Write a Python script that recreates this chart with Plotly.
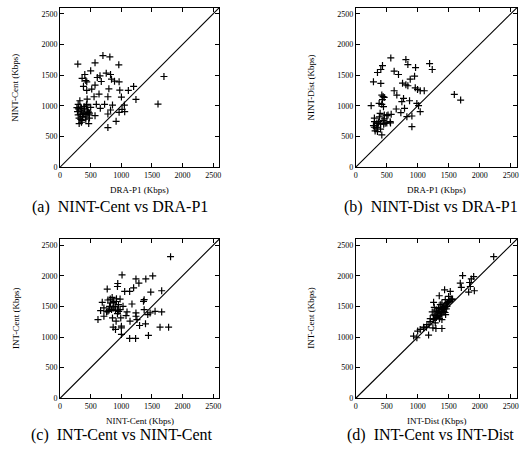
import plotly.graph_objects as go

# (a) NINT-Cent vs DRA-P1
a_dra_p1 = [290, 700, 813, 571, 500, 360, 404, 420, 436, 608, 673, 754, 824, 840, 889, 964, 959, 652,
            571, 382, 436, 517, 797, 975, 1115, 1201, 1239, 1696, 1599, 1002, 781, 555, 442, 636, 323,
            296, 436, 592, 727, 856, 1050, 1012, 1055, 964, 824, 781, 781, 915, 657, 500, 458, 474, 388,
            285, 296, 339, 312, 350, 468, 350, 393, 275, 447, 366, 420, 571,
            300, 330, 370, 400, 440, 480, 360, 420, 480, 310, 330, 430, 390, 350, 460]
a_nint_cent = [1680, 1818, 1796, 1700, 1569, 1445, 1510, 1412, 1390, 1461, 1396, 1531, 1510, 1434, 1401,
               1390, 1667, 1488, 1337, 1315, 1250, 1272, 1277, 1255, 1250, 1315, 1104, 1477, 1028, 1142,
               1147, 1147, 1109, 1190, 1082, 1023, 1023, 1023, 1023, 1012, 1012, 942, 904, 893, 931, 866,
               644, 747, 958, 974, 893, 850, 866, 904, 850, 779, 709, 731, 709, 958, 985, 969, 931, 823,
               817, 839,
               950, 860, 880, 950, 870, 800, 760, 780, 880, 800, 980, 1000, 860, 930, 900]

# (b) NINT-Dist vs DRA-P1
b_dra_p1 = [565, 808, 840, 431, 404, 350, 619, 689, 964, 948, 878, 1190, 1233, 285, 404, 754, 808, 840,
            959, 996, 1039, 1104, 619, 662, 420, 458, 770, 743, 867, 248, 377, 420, 447, 652, 786, 985,
            1012, 1039, 905, 824, 727, 571, 501, 393, 458, 555, 474, 366, 302, 285, 312, 350, 420, 905,
            1589, 1691,
            300, 340, 350, 400, 440, 380, 330, 450, 500, 560, 460, 520, 400, 300, 370, 440, 430]
b_nint_dist = [1780, 1753, 1672, 1656, 1591, 1542, 1564, 1510, 1623, 1483, 1434, 1688, 1591, 1391, 1364,
               1369, 1342, 1326, 1293, 1266, 1245, 1245, 1245, 1174, 1174, 1136, 1120, 1066, 1082, 1001,
               1039, 1023, 985, 947, 958, 1039, 1001, 904, 833, 823, 888, 861, 839, 877, 785, 741, 714,
               714, 741, 676, 590, 579, 525, 660, 1185, 1093,
               800, 720, 650, 700, 760, 820, 640, 700, 720, 720, 850, 850, 620, 650, 740, 1150, 1100]

# (c) INT-Cent vs NINT-Cent
c_nint_cent = [1804, 1012, 1239, 1400, 1513, 1287, 942, 937, 1201, 1055, 1136, 770, 1481, 1659, 1174,
               1373, 1362, 921, 851, 781, 689, 716, 662, 619, 716, 824, 878, 867, 953, 980, 937, 991,
               856, 915, 867, 905, 1002, 1002, 1093, 1077, 1142, 1239, 1239, 1255, 1298, 1395, 1373,
               1432, 1470, 1551, 1659, 1632, 1772, 1443, 1136, 1233, 1002, 759, 797, 905, 808, 1028, 958,
               820, 870, 900, 840, 780, 940, 980, 920]
c_int_cent = [2311, 2014, 1949, 1949, 1998, 1879, 1874, 1825, 1803, 1744, 1744, 1782, 1733, 1755, 1539,
              1609, 1582, 1625, 1647, 1604, 1566, 1474, 1431, 1285, 1339, 1555, 1582, 1474, 1528, 1447,
              1382, 1312, 1312, 1258, 1161, 1123, 1150, 1042, 1409, 1350, 1258, 1393, 1339, 1285, 1188,
              1215, 1447, 1366, 1393, 1420, 1409, 1161, 1161, 1026, 977, 977, 1177, 1409, 1436, 1431,
              1501, 1501, 1420,
              1620, 1560, 1500, 1450, 1420, 1440, 1620, 1580]

# (d) INT-Cent vs INT-Dist
d_int_dist = [2224, 1723, 1685, 1702, 1836, 1863, 1901, 1847, 1820, 1912, 1432, 1524, 1346, 1443, 1497,
              1389, 1255, 1266, 1336, 1416, 1309, 1233, 1363, 1449, 1389, 1255, 1201, 1282, 1244, 1147,
              1093, 1039, 998, 1174, 1389, 1292, 985, 932, 1497, 1551, 1470, 1363, 1320, 1389,
              1250, 1280, 1300, 1320, 1340, 1360, 1380, 1400, 1420, 1440, 1460, 1480, 1500, 1520, 1300,
              1340, 1380, 1420, 1460, 1260, 1180, 1140, 1100, 1200, 1350, 1540, 1560, 1440]
d_int_cent = [2311, 2003, 1879, 1809, 1890, 1949, 1987, 1825, 1733, 1755, 1771, 1744, 1674, 1609, 1582,
              1555, 1566, 1485, 1463, 1463, 1420, 1409, 1355, 1366, 1285, 1285, 1301, 1231, 1150, 1204,
              1161, 1123, 1096, 1031, 1139, 1139, 988, 1015, 1663, 1609, 1501, 1528, 1339, 1404,
              1300, 1350, 1320, 1380, 1400, 1420, 1450, 1480, 1500, 1520, 1540, 1560, 1580, 1600, 1440,
              1480, 1380, 1420, 1460, 1360, 1200, 1160, 1150, 1250, 1300, 1620, 1620, 1400]

tick_vals = [0, 500, 1000, 1500, 2000, 2500]
tick_text = ["0", "500", "1000", "1500", "2000", "2500"]
axis_max = 2600

panels = [
    (a_dra_p1, a_nint_cent, "DRA-P1 (Kbps)", "NINT-Cent (Kbps)", "(a)  NINT-Cent vs DRA-P1"),
    (b_dra_p1, b_nint_dist, "DRA-P1 (Kbps)", "NINT-Dist (Kbps)", "(b)  NINT-Dist vs DRA-P1"),
    (c_nint_cent, c_int_cent, "NINT-Cent (Kbps)", "INT-Cent (Kbps)", "(c)  INT-Cent vs NINT-Cent"),
    (d_int_dist, d_int_cent, "INT-Dist (Kbps)", "INT-Cent (Kbps)", "(d)  INT-Cent vs INT-Dist"),
]

W, H = 522, 451
# plot frames in pixels: (left, right, top, bottom)
frames = [(58.5, 219, 7.7, 169), (356.5, 519, 7.7, 169),
          (58.5, 219, 241.7, 402.7), (356.5, 519, 241.7, 402.7)]
caption_pos = [(119, 209.5), (432, 209.5), (121, 440), (432, 440)]

serif = "Liberation Serif, Times New Roman, serif"
fig = go.Figure()
annotations = []

for i, ((xs, ys, xt, yt, cap), (l, r, t, b), (cx, cy)) in enumerate(zip(panels, frames, caption_pos)):
    n = "" if i == 0 else str(i + 1)
    xa, ya = "x" + n, "y" + n
    fig.add_trace(go.Scatter(x=[0, axis_max], y=[0, axis_max], mode="lines",
                             line=dict(color="black", width=1.1), xaxis=xa, yaxis=ya,
                             showlegend=False, hoverinfo="skip"))
    fig.add_trace(go.Scatter(x=xs, y=ys, mode="markers",
                             marker=dict(symbol="cross-thin", size=5, color="black",
                                         line=dict(color="black", width=1.2)),
                             xaxis=xa, yaxis=ya, showlegend=False))
    axis_common = dict(range=[0, axis_max], tickvals=tick_vals, ticktext=tick_text,
                       ticks="inside", ticklen=4, tickcolor="black", showline=True,
                       linecolor="black", linewidth=1, mirror="ticks", showgrid=False,
                       zeroline=False, tickfont=dict(family=serif, size=8, color="black"))
    fig.update_layout(**{
        "xaxis" + n: dict(domain=[l / W, r / W], anchor=ya, **axis_common),
        "yaxis" + n: dict(domain=[1 - b / H, 1 - t / H], anchor=xa, **axis_common),
    })
    annotations.append(dict(x=(l + r) / 2 / W, y=1 - (b + 23) / H, xref="paper", yref="paper",
                            text=xt, showarrow=False, xanchor="center", yanchor="middle",
                            font=dict(family=serif, size=9, color="black")))
    annotations.append(dict(x=(l - 45) / W, y=1 - (t + b) / 2 / H, xref="paper", yref="paper",
                            text=yt, showarrow=False, textangle=-90, xanchor="center",
                            yanchor="middle", font=dict(family=serif, size=9, color="black")))
    annotations.append(dict(x=cx / W, y=1 - cy / H, xref="paper", yref="paper", text=cap,
                            showarrow=False, xanchor="center", yanchor="middle",
                            font=dict(family=serif, size=16, color="black")))

fig.update_layout(width=W, height=H, margin=dict(l=0, r=0, t=0, b=0),
                  paper_bgcolor="white", plot_bgcolor="white", annotations=annotations)

fig.write_html("out.html")
